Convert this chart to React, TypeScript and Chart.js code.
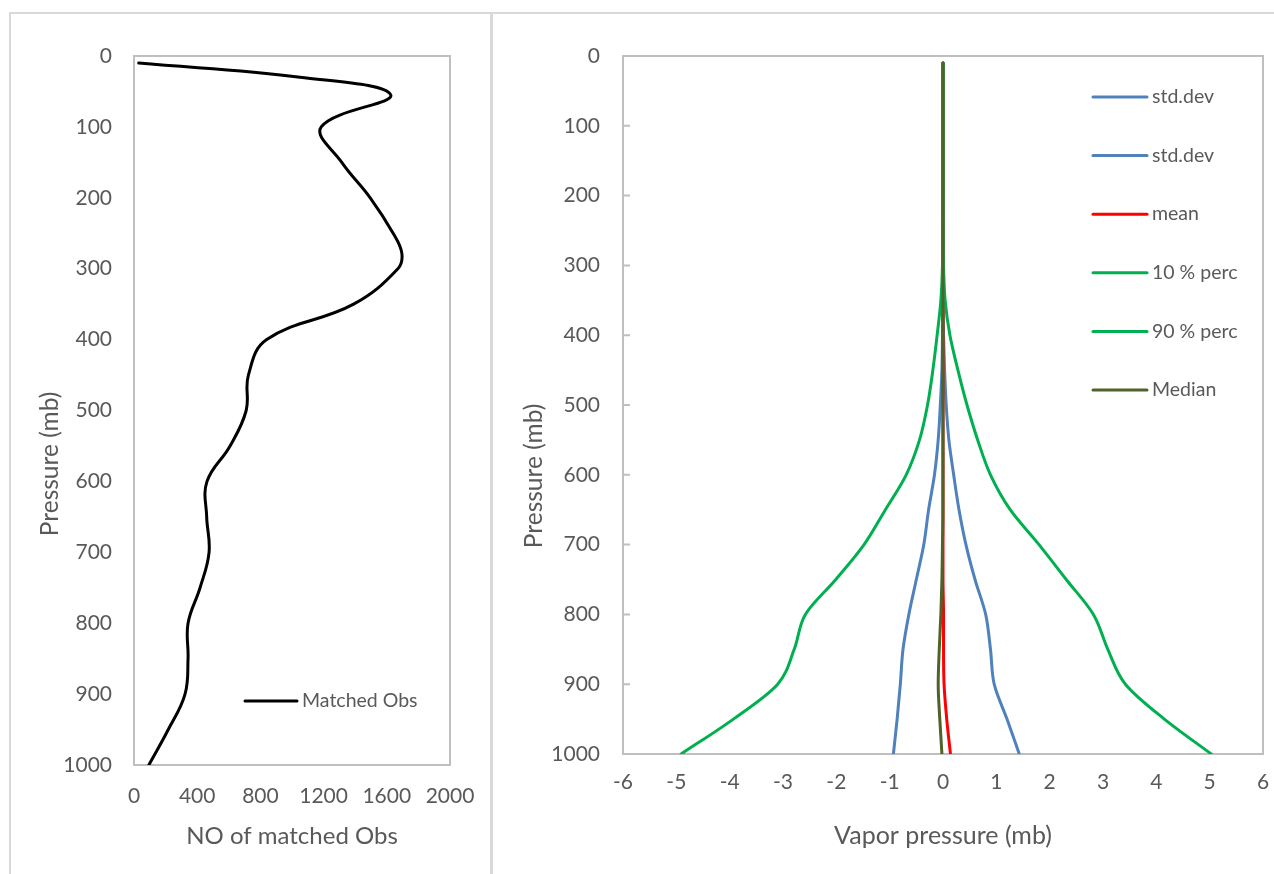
import React, { useEffect, useRef } from 'react';
import { Chart, registerables } from 'chart.js';

Chart.register(...registerables);

const FONT = "Lato, 'Open Sans', sans-serif";
const TEXT = '#595959';
const BOX = '#bfbfbf';

// ---------- Left chart data ----------
const obsLevels = [10, 30, 55, 100, 150, 200, 250, 278, 300, 350, 400, 450, 500, 550, 600, 650, 700, 750, 800, 850, 900, 950, 1000];
const obsCounts = [30, 1050, 1625, 1185, 1315, 1495, 1640, 1695, 1670, 1390, 840, 724, 710, 608, 462, 460, 475, 418, 342, 342, 323, 217, 94];
const obsLabel = 'Matched Obs';
const obsXTitle = 'NO of matched Obs';

// ---------- Right chart data ----------
const vpLevels = [10, 100, 200, 300, 350, 400, 450, 500, 550, 600, 650, 700, 750, 800, 850, 900, 950, 1000];
const stdNeg = [0, 0, 0, 0, 0, -0.01, -0.02, -0.05, -0.09, -0.16, -0.27, -0.36, -0.5, -0.64, -0.75, -0.8, -0.86, -0.93];
const stdPos = [0, 0, 0, 0, 0, 0.01, 0.03, 0.06, 0.11, 0.2, 0.3, 0.43, 0.6, 0.8, 0.89, 0.96, 1.2, 1.43];
const meanVals = [0, 0, 0, 0, 0, 0, 0, 0, 0, 0, 0, 0, 0, 0.01, 0.01, 0.02, 0.07, 0.14];
const perc10 = [0, 0, 0, -0.01, -0.04, -0.11, -0.19, -0.29, -0.44, -0.69, -1.08, -1.48, -2.01, -2.58, -2.79, -3.1, -3.93, -4.91];
const perc90 = [0, 0, 0, 0.01, 0.04, 0.13, 0.28, 0.45, 0.65, 0.89, 1.26, 1.8, 2.31, 2.82, 3.09, 3.42, 4.15, 5.03];
const medianVals = [0, 0, 0, 0, 0, 0, 0, 0, 0, 0, 0, -0.01, -0.02, -0.04, -0.07, -0.09, -0.06, -0.02];
const vpSeries = [stdNeg, stdPos, meanVals, perc10, perc90, medianVals];
const vpLabels = ['std.dev', 'std.dev', 'mean', '10 % perc', '90 % perc', 'Median'];
const vpColors = ['#4f81bd', '#4f81bd', '#ff0000', '#00b050', '#00b050', '#4f6228'];
const vpXTitle = 'Vapor pressure (mb)';
const yTitle = 'Pressure (mb)';

const toXY = (xs: number[], ps: number[]) => xs.map((x, i) => ({ x, y: ps[i] }));

type Opts = {
  yWidth: number;
  xHeight: number;
  padTop: number;
  padRight: number;
  xMin: number;
  xMax: number;
  xStep: number;
  xTickOffset: number;
  yTickPad: number;
  xTitle: string;
  xTitleSize: number;
  xTitlePadBottom: number;
  datasets: any[];
  innerTicks: boolean;
  yTitlePos: { x: number; y: number };
  legend: { x0: number; x1: number; tx: number; y0: number; dy: number };
};

function buildChart(canvas: HTMLCanvasElement, o: Opts) {
  const tickFont = { family: FONT, size: 21 };
  const boxPlugin = {
    id: 'boxPlugin',
    beforeDatasetsDraw(chart: any) {
      const { ctx, chartArea: a } = chart;
      ctx.save();
      ctx.strokeStyle = BOX;
      ctx.lineWidth = 2;
      ctx.strokeRect(a.left, a.top, a.right - a.left, a.bottom - a.top);
      if (o.innerTicks) {
        const ys = chart.scales.y;
        ctx.beginPath();
        ys.ticks.forEach((t: any) => {
          const py = ys.getPixelForValue(t.value);
          ctx.moveTo(a.left, py);
          ctx.lineTo(a.left + 7, py);
        });
        ctx.stroke();
      }
      ctx.restore();
    },
  };
  const legendPlugin = {
    id: 'insideLegend',
    afterDatasetsDraw(chart: any) {
      const { ctx } = chart;
      ctx.save();
      chart.data.datasets.forEach((ds: any, i: number) => {
        const y = o.legend.y0 + i * o.legend.dy;
        ctx.strokeStyle = ds.borderColor;
        ctx.lineWidth = 3;
        ctx.lineCap = 'round';
        ctx.beginPath();
        ctx.moveTo(o.legend.x0, y);
        ctx.lineTo(o.legend.x1, y);
        ctx.stroke();
        ctx.fillStyle = TEXT;
        ctx.font = `19.5px ${FONT}`;
        ctx.textAlign = 'left';
        ctx.textBaseline = 'middle';
        ctx.fillText(ds.label, o.legend.tx, y);
      });
      ctx.restore();
    },
  };
  const yTitlePlugin = {
    id: 'yTitle',
    afterDraw(chart: any) {
      const { ctx } = chart;
      ctx.save();
      ctx.translate(o.yTitlePos.x, o.yTitlePos.y);
      ctx.rotate(-Math.PI / 2);
      ctx.fillStyle = TEXT;
      ctx.font = `24.5px ${FONT}`;
      ctx.textAlign = 'center';
      ctx.textBaseline = 'middle';
      ctx.fillText(yTitle, 0, 0);
      ctx.restore();
    },
  };

  return new Chart(canvas, {
    type: 'line',
    data: { datasets: o.datasets },
    options: {
      responsive: false,
      animation: false,
      indexAxis: 'y',
      layout: { padding: { left: 0, top: o.padTop, right: o.padRight, bottom: 0 } },
      plugins: { legend: { display: false }, tooltip: { enabled: false } },
      elements: { point: { radius: 0 } },
      scales: {
        x: {
          type: 'linear',
          min: o.xMin,
          max: o.xMax,
          ticks: {
            stepSize: o.xStep,
            padding: 0,
            color: TEXT,
            font: tickFont,
            callback: (v: any) => String(v),
          },
          grid: { display: false, drawTicks: true, tickLength: o.xTickOffset },
          border: { display: false },
          title: {
            display: true,
            text: o.xTitle,
            color: TEXT,
            font: { family: FONT, size: o.xTitleSize },
            padding: { top: 0, bottom: o.xTitlePadBottom },
          },
          afterFit: (s: any) => {
            s.height = o.xHeight;
          },
        },
        y: {
          type: 'linear',
          reverse: true,
          min: 0,
          max: 1000,
          ticks: {
            stepSize: 100,
            padding: o.yTickPad,
            color: TEXT,
            font: tickFont,
            callback: (v: any) => String(v),
          },
          grid: { display: false, drawTicks: false },
          border: { display: false },
          afterFit: (s: any) => {
            s.width = o.yWidth;
          },
        },
      },
    },
    plugins: [boxPlugin, legendPlugin, yTitlePlugin],
  } as any);
}

function ObsChart() {
  const ref = useRef<HTMLCanvasElement>(null);
  useEffect(() => {
    const chart = buildChart(ref.current!, {
      yWidth: 124,
      xHeight: 109,
      padTop: 43,
      padRight: 41,
      xMin: 0,
      xMax: 2000,
      xStep: 400,
      xTickOffset: 19,
      yTickPad: 22,
      xTitle: obsXTitle,
      xTitleSize: 24,
      xTitlePadBottom: 23.6,
      innerTicks: false,
      yTitlePos: { x: 40, y: 451 },
      legend: { x0: 235, x1: 287, tx: 292, y0: 688, dy: 0 },
      datasets: [
        {
          label: obsLabel,
          data: toXY(obsCounts, obsLevels),
          borderColor: '#000000',
          borderWidth: 3,
          tension: 0.4,
          borderCapStyle: 'round',
          borderJoinStyle: 'round',
          pointRadius: 0,
          fill: false,
        },
      ],
    });
    return () => chart.destroy();
  }, []);
  return <canvas ref={ref} width={481} height={861} style={{ position: 'absolute', left: 10, top: 13 }} />;
}

function VaporChart() {
  const ref = useRef<HTMLCanvasElement>(null);
  useEffect(() => {
    const chart = buildChart(ref.current!, {
      yWidth: 132,
      xHeight: 120,
      padTop: 43,
      padRight: 11,
      xMin: -6,
      xMax: 6,
      xStep: 1,
      xTickOffset: 16,
      yTickPad: 23,
      xTitle: vpXTitle,
      xTitleSize: 25,
      xTitlePadBottom: 23,
      innerTicks: true,
      yTitlePos: { x: 43, y: 463 },
      legend: { x0: 602, x1: 656, tx: 661, y0: 84, dy: 58.6 },
      datasets: vpSeries.map((vals, i) => ({
        label: vpLabels[i],
        data: toXY(vals, vpLevels),
        borderColor: vpColors[i],
        borderWidth: 3,
        cubicInterpolationMode: 'monotone',
        borderCapStyle: 'round',
        borderJoinStyle: 'round',
        pointRadius: 0,
        fill: false,
        order: vpSeries.length - i,
      })),
    });
    return () => chart.destroy();
  }, []);
  return <canvas ref={ref} width={783} height={861} style={{ position: 'absolute', left: 491, top: 13 }} />;
}

export default function App() {
  return (
    <div
      style={{
        position: 'fixed',
        left: 0,
        top: 0,
        width: 1274,
        height: 874,
        background: '#ffffff',
        overflow: 'hidden',
      }}
    >
      <div
        style={{
          position: 'absolute',
          left: 9,
          top: 12,
          width: 480,
          height: 900,
          border: '2px solid #d9d9d9',
        }}
      />
      <div
        style={{
          position: 'absolute',
          left: 490,
          top: 12,
          width: 900,
          height: 900,
          border: '2px solid #d9d9d9',
        }}
      />
      <ObsChart />
      <VaporChart />
    </div>
  );
}
